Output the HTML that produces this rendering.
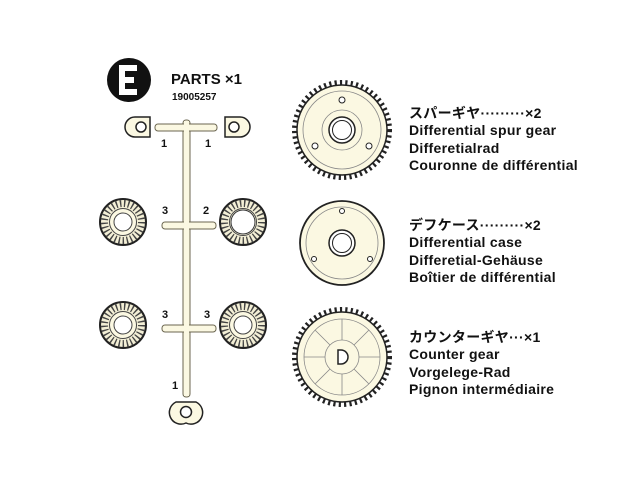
<!DOCTYPE html>
<html><head><meta charset="utf-8"><style>
html,body{margin:0;padding:0;background:#fff;}
body{width:640px;height:480px;overflow:hidden;position:relative;font-family:"Liberation Sans","Noto Sans CJK JP",sans-serif;}
.t{position:absolute;left:409px;font-size:14px;font-weight:bold;line-height:17.3px;color:#111;letter-spacing:0.3px;}
</style></head><body>
<svg width="640" height="480" style="position:absolute;left:0;top:0" font-family="Liberation Sans, sans-serif" font-weight="bold">
<defs>
<g id="bevel">
  <circle r="23" fill="#f3efd6" stroke="#222" stroke-width="2"/>
  <circle r="18.5" fill="none" stroke="#444" stroke-width="7" stroke-dasharray="1.4 2.6"/>
  <circle r="13.5" fill="#fbf8e2" stroke="#444" stroke-width="1"/>
  <circle r="9" fill="#fff" stroke="#444" stroke-width="1"/>
</g>
</defs>
<circle cx="129" cy="80" r="22" fill="#111"/>
<rect x="119" y="65" width="6" height="30" fill="#fff"/>
<rect x="119" y="65" width="18" height="6" fill="#fff"/>
<rect x="119" y="77" width="15" height="6" fill="#fff"/>
<rect x="119" y="89" width="18" height="6" fill="#fff"/>
<text x="171" y="84" font-size="15" fill="#111">PARTS ×1</text>
<text x="172" y="100" font-size="10" fill="#111">19005257</text>
<g fill="#fbf8e2" stroke="#6b6650" stroke-width="1">
<rect x="183" y="120" width="7" height="277" rx="3"/>
<rect x="155" y="124" width="62" height="7" rx="3"/>
<rect x="162" y="222" width="54" height="7" rx="3"/>
<rect x="162" y="325" width="54" height="7" rx="3"/>
</g>
<rect x="184" y="121" width="5" height="275" fill="#fbf8e2"/>
<g fill="#fbf8e2" stroke="#222" stroke-width="1.5">
<path d="M135 117 h15 v20 h-15 a10 10 0 0 1 0 -20 z"/>
<circle cx="141" cy="127" r="5" fill="#fff"/>
<path d="M240 117 h-15 v20 h15 a10 10 0 0 0 0 -20 z"/>
<circle cx="234" cy="127" r="5" fill="#fff"/>
<path d="M176 402 h20 a11 11 0 0 1 -10 21 a11 11 0 0 1 -10 -21 z"/>
<circle cx="186" cy="412" r="5.5" fill="#fff"/>
</g>
<use href="#bevel" x="123" y="222"/>
<use href="#bevel" x="243" y="222"/>
<use href="#bevel" x="123" y="325"/>
<use href="#bevel" x="243" y="325"/>
<circle cx="243" cy="222" r="12" fill="#fff" stroke="#333"/>
<g font-size="11" fill="#111">
<text x="161" y="147">1</text><text x="205" y="147">1</text>
<text x="162" y="214">3</text><text x="203" y="214">2</text>
<text x="162" y="318">3</text><text x="204" y="318">3</text>
<text x="172" y="389">1</text>
</g>
<g transform="translate(342,130)">
<circle r="47.5" fill="none" stroke="#222" stroke-width="5" stroke-dasharray="2.2 3.2"/>
<circle r="45" fill="#fbf8e2" stroke="#222" stroke-width="1.5"/>
<circle r="39" fill="none" stroke="#888" stroke-width="0.8"/>
<circle r="20" fill="none" stroke="#888" stroke-width="0.8"/>
<circle r="13" fill="#fff" stroke="#222" stroke-width="1.5"/>
<circle r="9.5" fill="#fff" stroke="#222" stroke-width="1"/>
<circle cx="0" cy="-30" r="3" fill="#fff" stroke="#222"/>
<circle cx="-27" cy="16" r="3" fill="#fff" stroke="#222"/>
<circle cx="27" cy="16" r="3" fill="#fff" stroke="#222"/>
</g>
<g transform="translate(342,243)">
<circle r="42" fill="#fbf8e2" stroke="#222" stroke-width="1.8"/>
<circle r="36" fill="none" stroke="#888" stroke-width="0.8"/>
<circle r="13" fill="#fff" stroke="#222" stroke-width="1.5"/>
<circle r="9.5" fill="#fff" stroke="#222" stroke-width="1"/>
<circle cx="0" cy="-32" r="2.5" fill="#fff" stroke="#222"/>
<circle cx="-28" cy="16" r="2.5" fill="#fff" stroke="#222"/>
<circle cx="28" cy="16" r="2.5" fill="#fff" stroke="#222"/>
</g>
<g transform="translate(342,357)">
<circle r="47.5" fill="none" stroke="#222" stroke-width="5" stroke-dasharray="2.2 3.2"/>
<circle r="45" fill="#fbf8e2" stroke="#222" stroke-width="1.5"/>
<circle r="38" fill="none" stroke="#888" stroke-width="0.8"/>
<circle r="17" fill="#fbf8e2" stroke="#888" stroke-width="0.8"/>
<g stroke="#888" stroke-width="0.8">
<path d="M0 -17V-38M0 17V38M-17 0H-38M17 0H38M-12 -12L-27 -27M12 -12L27 -27M-12 12L-27 27M12 12L27 27"/>
</g>
<path d="M-4 -7 h3 a7 7 0 0 1 0 14 h-3 z" fill="#fff" stroke="#222" stroke-width="1.5"/>
</g>
</svg>
<div class="t" style="top:105px">スパーギヤ·········×2<br>Differential spur gear<br>Differetialrad<br>Couronne de différential</div>
<div class="t" style="top:217px">デフケース·········×2<br>Differential case<br>Differetial-Gehäuse<br>Boîtier de différential</div>
<div class="t" style="top:329px">カウンターギヤ···×1<br>Counter gear<br>Vorgelege-Rad<br>Pignon intermédiaire</div>
</body></html>
